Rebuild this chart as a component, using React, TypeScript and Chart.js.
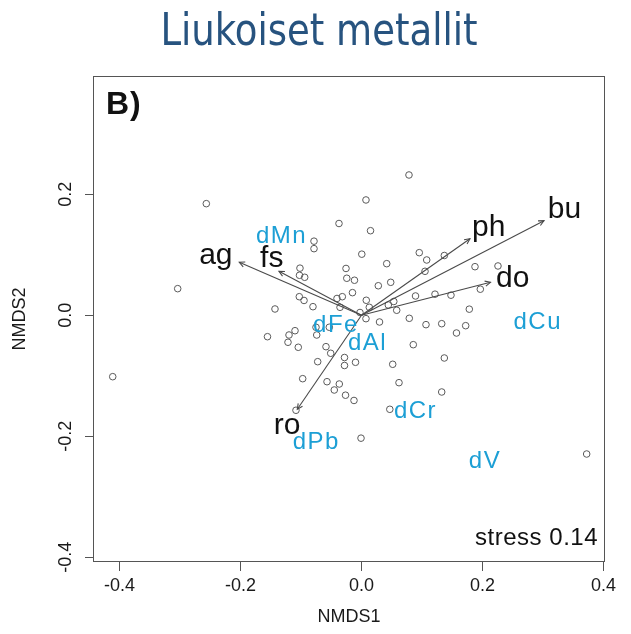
import { useEffect, useRef } from "react";
import { Chart, registerables } from "chart.js";

Chart.register(...registerables);

// NMDS site scores (axis 1, axis 2)
const SITE_X = [
  -0.2565, -0.3038, -0.4112, -0.143, -0.1554, -0.1198, -0.1099, -0.1215, -0.1045, -0.1017,
  -0.1025, -0.0939, -0.1028, -0.095, -0.0802, -0.0785, -0.0785, -0.0372, -0.0256, -0.0243,
  -0.0116, -0.0149, -0.0405, -0.0317, -0.0355, -0.0752, -0.074, -0.0532, -0.0587, -0.0509,
  -0.0724, -0.0281, -0.0281, -0.0099, -0.0972, -0.057, -0.0367, -0.045, -0.0264, -0.0124,
  -0.1083, -0.0008, -0.0025, 0.0074, 0.0074, 0.0005, 0.0785, 0.0149, 0.0955, 0.1078,
  0.1369, 0.105, 0.0417, 0.1876, 0.2256, 0.0278, 0.0483, 0.0893, 0.1215, 0.1479,
  0.1964, 0.0079, 0.0129, 0.0443, 0.0534, 0.0582, 0.1782, 0.0298, 0.079, 0.1066,
  0.1326, 0.1722, 0.157, 0.0856, 0.1369, 0.0516, 0.062, 0.1326, 0.0468, 0.3722,
];
const SITE_Y = [
  0.1845, 0.044, -0.1015, 0.0104, -0.0354, -0.0326, -0.0255, -0.0446, -0.0529, 0.0779,
  0.0661, 0.0628, 0.0307, 0.0245, 0.0142, 0.1225, 0.1101, 0.1517, 0.0774, 0.0612,
  0.0579, 0.0374, 0.0278, 0.0307, 0.0132, -0.0198, -0.0326, -0.0198, -0.0519, -0.0628,
  -0.0767, -0.0698, -0.083, -0.0777, -0.1048, -0.1098, -0.1136, -0.1235, -0.1321, -0.1408,
  -0.157, -0.2031, 0.0046, -0.0056, 0.1906, 0.101, 0.2319, 0.1398, 0.1035, 0.0914,
  0.0988, 0.0727, 0.0853, 0.0803, 0.0815, 0.0488, 0.0545, 0.0319, 0.0349, 0.0332,
  0.0431, 0.0248, 0.0132, 0.017, 0.0228, 0.0083, 0.0101, -0.0111, -0.005, -0.0155,
  -0.0139, -0.0172, -0.0293, -0.0486, -0.0706, -0.081, -0.1114, -0.1268, -0.1554, -0.2293,
];

// Fitted environmental vectors (arrow tips) and their label anchors
const ENV_NAMES = ["ag", "fs", "ph", "bu", "do", "ro"];
const ENV_X = [-0.202, -0.1364, 0.1793, 0.3017, 0.2132, -0.1061];
const ENV_Y = [0.0876, 0.0727, 0.1264, 0.1564, 0.0545, -0.1554];
const ENV_LABEL_X = [-0.2408, -0.1484, 0.2102, 0.3355, 0.2501, -0.1228];
const ENV_LABEL_Y = [0.0848, 0.0798, 0.1316, 0.1613, 0.0463, -0.1962];

// Dissolved metal scores
const METAL_NAMES = ["dMn", "dFe", "dAl", "dCu", "dCr", "dPb", "dV"];
const METAL_X = [-0.1322, -0.0421, 0.0099, 0.2914, 0.0893, -0.0747, 0.2041];
const METAL_Y = [0.119, -0.0271, -0.0574, -0.0231, -0.1702, -0.221, -0.2519];

const X_TICKS = [-0.4, -0.2, 0, 0.2, 0.4];
const Y_TICKS = [-0.4, -0.2, 0, 0.2];
const STRESS = 0.14;
const PANEL = "B)";
const TITLE = "Liukoiset metallit";

const SANS = '"Liberation Sans", Arial, Helvetica, sans-serif';
const INK = "#1a1a1a";
const LINE = "#555555";
const CYAN = "#1c9fd5";

const overlay = {
  id: "overlay",
  beforeDatasetsDraw(chart: any) {
    const { ctx, chartArea: a } = chart;
    ctx.save();
    ctx.strokeStyle = LINE;
    ctx.lineWidth = 1;
    ctx.strokeRect(a.left + 0.5, a.top + 0.5, a.right - a.left - 1, a.bottom - a.top - 1);
    ctx.restore();
  },
  afterDatasetsDraw(chart: any) {
    const { ctx, chartArea: a, scales } = chart;
    const sx = scales.x;
    const sy = scales.y;
    ctx.save();

    // vectors from the origin
    const x0 = sx.getPixelForValue(0);
    const y0 = sy.getPixelForValue(0);
    ctx.strokeStyle = "#4a4a4a";
    ctx.lineWidth = 1.1;
    ENV_X.forEach((vx, i) => {
      const x1 = sx.getPixelForValue(vx);
      const y1 = sy.getPixelForValue(ENV_Y[i]);
      ctx.beginPath();
      ctx.moveTo(x0, y0);
      ctx.lineTo(x1, y1);
      ctx.stroke();
      const ang = Math.atan2(y1 - y0, x1 - x0);
      const len = 6;
      const w = Math.PI / 7;
      ctx.beginPath();
      ctx.moveTo(x1 - len * Math.cos(ang - w), y1 - len * Math.sin(ang - w));
      ctx.lineTo(x1, y1);
      ctx.lineTo(x1 - len * Math.cos(ang + w), y1 - len * Math.sin(ang + w));
      ctx.stroke();
    });

    // vector labels
    ctx.fillStyle = "#111";
    ctx.font = `30px ${SANS}`;
    ctx.textAlign = "center";
    ctx.textBaseline = "alphabetic";
    ENV_NAMES.forEach((name, i) => {
      ctx.fillText(name, sx.getPixelForValue(ENV_LABEL_X[i]), sy.getPixelForValue(ENV_LABEL_Y[i]));
    });

    // metal labels
    ctx.fillStyle = CYAN;
    ctx.font = `24px ${SANS}`;
    (ctx as any).letterSpacing = "1.5px";
    METAL_NAMES.forEach((name, i) => {
      ctx.fillText(name, sx.getPixelForValue(METAL_X[i]), sy.getPixelForValue(METAL_Y[i]));
    });

    // panel tag and stress
    ctx.fillStyle = "#111";
    (ctx as any).letterSpacing = "1px";
    ctx.font = `bold 32px ${SANS}`;
    ctx.textAlign = "left";
    ctx.fillText(PANEL, a.left + 13, a.top + 38);
    ctx.font = `24px ${SANS}`;
    (ctx as any).letterSpacing = "0.5px";
    ctx.textAlign = "right";
    ctx.fillText(`stress ${STRESS.toFixed(2)}`, a.right - 7, a.bottom - 17);

    ctx.restore();
  },
  afterDraw(chart: any) {
    const { ctx } = chart;
    ctx.save();
    ctx.fillStyle = "#27537f";
    ctx.font = '45px "DejaVu Sans Condensed", "Liberation Sans Narrow", sans-serif';
    ctx.textAlign = "center";
    ctx.textBaseline = "alphabetic";
    // narrow the condensed face a little more, keeping the text centred at x=319
    const squeeze = 0.915;
    ctx.translate(319, 45);
    ctx.scale(squeeze, 1);
    ctx.fillText(TITLE, 0, 0);
    ctx.restore();
  },
};

export default function App() {
  const ref = useRef<HTMLCanvasElement | null>(null);

  useEffect(() => {
    if (!ref.current) return;
    const points = SITE_X.map((x, i) => ({ x, y: SITE_Y[i] }));
    const chart = new Chart(ref.current, {
      type: "scatter",
      data: {
        datasets: [
          {
            data: points,
            pointRadius: 3.3,
            pointBorderWidth: 1,
            pointBackgroundColor: "rgba(0,0,0,0)",
            pointBorderColor: "#5a5a5a",
          },
        ],
      },
      options: {
        responsive: false,
        animation: false,
        events: [],
        layout: { padding: { left: 0, top: 76, right: 26, bottom: 0 } },
        plugins: { legend: { display: false }, tooltip: { enabled: false } },
        scales: {
          x: {
            type: "linear",
            min: -0.4438,
            max: 0.4025,
            afterBuildTicks: (s: any) => {
              s.ticks = X_TICKS.map((value) => ({ value }));
            },
            afterFit: (s: any) => {
              s.height = 72;
            },
            border: { display: false },
            grid: { drawOnChartArea: false, tickLength: 9, tickColor: LINE, tickWidth: 1 },
            ticks: {
              color: INK,
              font: { family: SANS, size: 18 },
              padding: 4,
              maxRotation: 0,
              minRotation: 0,
              callback: (v: any) => Number(v).toFixed(1),
            },
            title: {
              display: true,
              text: "NMDS1",
              color: INK,
              font: { family: SANS, size: 18 },
              padding: { top: 0, bottom: 6 },
            },
          },
          y: {
            type: "linear",
            min: -0.4078,
            max: 0.3955,
            afterBuildTicks: (s: any) => {
              s.ticks = Y_TICKS.map((value) => ({ value }));
            },
            afterFit: (s: any) => {
              s.width = 93;
            },
            border: { display: false },
            grid: { drawOnChartArea: false, tickLength: 8, tickColor: LINE, tickWidth: 1 },
            ticks: {
              color: INK,
              font: { family: SANS, size: 18 },
              padding: 3,
              minRotation: 90,
              maxRotation: 90,
              crossAlign: "center",
              callback: (v: any) => Number(v).toFixed(1),
            },
            title: {
              display: true,
              text: "NMDS2",
              color: INK,
              font: { family: SANS, size: 18 },
              padding: { top: 9, bottom: 0 },
            },
          },
        },
      },
      plugins: [overlay],
    });
    return () => chart.destroy();
  }, []);

  return (
    <div style={{ position: "absolute", left: 0, top: 0, width: 631, height: 634, background: "#fff" }}>
      <canvas ref={ref} width={631} height={634} style={{ display: "block" }} />
    </div>
  );
}
